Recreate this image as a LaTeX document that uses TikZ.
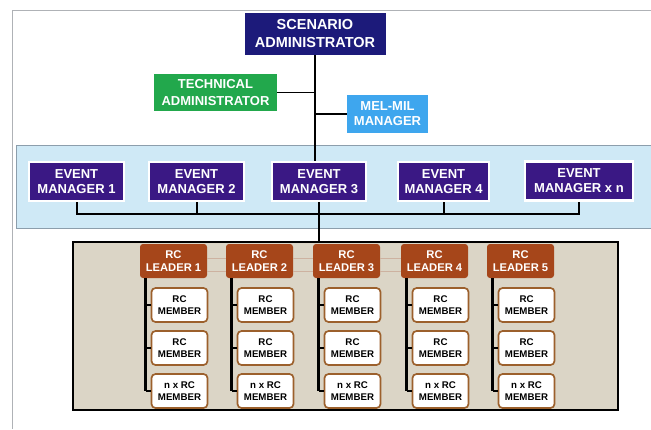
\documentclass[tikz,border=0pt]{standalone}
\usepackage{fontspec}
\setmainfont{Liberation Sans}
\definecolor{scennavy}{RGB}{28,26,122}
\definecolor{evpurple}{RGB}{58,24,132}
\definecolor{techgreen}{RGB}{34,168,76}
\definecolor{melblue}{RGB}{62,166,238}
\definecolor{bandfill}{RGB}{207,233,246}
\definecolor{bandline}{RGB}{140,158,172}
\definecolor{rcfill}{RGB}{219,213,198}
\definecolor{leadbrown}{RGB}{166,70,26}
\definecolor{membrown}{RGB}{156,96,44}
\definecolor{faintline}{RGB}{205,178,160}
\definecolor{pageline}{RGB}{175,178,182}
\begin{document}
\begin{tikzpicture}[x=1pt,y=-1pt,
  rolebox/.style={inner sep=0pt, align=center, text=white},
  scenbox/.style={rolebox, fill=scennavy, minimum width=141pt, minimum height=42pt,
    font=\bfseries\fontsize{14.5}{18}\selectfont},
  techbox/.style={rolebox, fill=techgreen, minimum width=123pt, minimum height=37pt,
    font=\bfseries\fontsize{13}{16.5}\selectfont},
  melbox/.style={rolebox, fill=melblue, minimum width=81pt, minimum height=38pt,
    font=\bfseries\fontsize{13}{15}\selectfont},
  evbox/.style={rolebox, fill=evpurple, draw=white, line width=2.5pt, minimum height=39pt,
    font=\bfseries\fontsize{13}{15}\selectfont},
  leadbox/.style={rolebox, fill=leadbrown, rounded corners=3pt, minimum width=67pt, minimum height=34pt,
    font=\bfseries\fontsize{11.2}{12.5}\selectfont},
  membox/.style={inner sep=0pt, align=center, text=black, fill=white, draw=membrown, line width=1.7pt,
    rounded corners=4pt, minimum width=56pt, minimum height=34pt,
    font=\bfseries\fontsize{9.7}{11.5}\selectfont},
  tie/.style={draw=black, line width=2pt},
  thintie/.style={draw=black, line width=1.8pt},
  coltie/.style={draw=black, line width=2.6pt},
  stubtie/.style={draw=black, line width=1.4pt}]
\useasboundingbox (0,0) rectangle (651,429);
\fill[white] (0,0) rectangle (651,429);

% page frame
\draw[pageline, line width=0.8pt] (12,429) -- (12,10) -- (651,10);

% event manager band
\fill[bandfill] (16,145) rectangle (651,228);
\draw[bandline, line width=0.9pt] (651,145) -- (16,145) -- (16,228) -- (651,228);

% response cell area
\node[draw=black, line width=1.5pt, fill=rcfill, minimum width=545pt, minimum height=168pt, inner sep=0pt]
  (rc) at (345.5,326) {};

% top roles
\node[scenbox] (scen) at (315,34) {SCENARIO\\ADMINISTRATOR};
\node[techbox] (tech) at (215.5,92.5) {TECHNICAL\\ADMINISTRATOR};
\node[melbox] (mel) at (387.5,114) {MEL-MIL\\MANAGER};

% event managers
\node[evbox, minimum width=95pt] (em1) at (76.5,181.5) {EVENT\\MANAGER 1};
\node[evbox, minimum width=95pt] (em2) at (196.5,181.5) {EVENT\\MANAGER 2};
\node[evbox, minimum width=94pt] (em3) at (319,181.5) {EVENT\\MANAGER 3};
\node[evbox, minimum width=91pt] (em4) at (443.5,181.5) {EVENT\\MANAGER 4};
\node[evbox, minimum width=108pt] (em5) at (579,181) {EVENT\\MANAGER x n};

% command spine and side branches
\draw[thintie] (scen.south) -- (scen.south |- em3.north);
\draw[thintie] (tech.east) -- (tech.east -| scen.south);
\draw[thintie] (mel.west) -- (mel.west -| scen.south);

% event manager bus
\coordinate (bus) at (0,214);
\draw[tie] (em1.south) -- (em1.south |- bus) -- (em5.south |- bus) -- (em5.south);
\foreach \k in {2,3,4}{\draw[tie] (em\k.south) -- (em\k.south |- bus);}
\draw[tie] (em3.south |- bus) -- (em3.south |- rc.north);

% response cells: leader with members
\foreach \i/\lx in {1/140,2/226,3/313,4/401,5/487}{
  \node[leadbox] (ld\i) at (\lx+33.5,261) {RC\\LEADER \i};
  \node[membox] (ma\i) at (\lx+39.5,305) {RC\\MEMBER};
  \node[membox] (mb\i) at (\lx+39.5,348) {RC\\MEMBER};
  \node[membox] (mc\i) at (\lx+39.5,391) {n x RC\\MEMBER};
  \coordinate (tp\i) at (\lx+5.5,278);
  \draw[coltie] (tp\i) -- (tp\i |- mc\i.west);
  \draw[stubtie] (tp\i |- ma\i.west) -- (ma\i.west);
  \draw[stubtie] (tp\i |- mb\i.west) -- (mb\i.west);
  \draw[stubtie] (tp\i |- mc\i.west) -- (mc\i.west);
}

% faint guides between leaders
\foreach \a/\b in {1/2,2/3,3/4}{
  \draw[faintline, line width=0.6pt] ([yshift=3pt]ld\a.east) -- ([yshift=3pt]ld\b.west);
  \draw[faintline, line width=0.6pt] ([yshift=-10pt]ld\a.east) -- ([yshift=-10pt]ld\b.west);
}
\end{tikzpicture}
\end{document}
